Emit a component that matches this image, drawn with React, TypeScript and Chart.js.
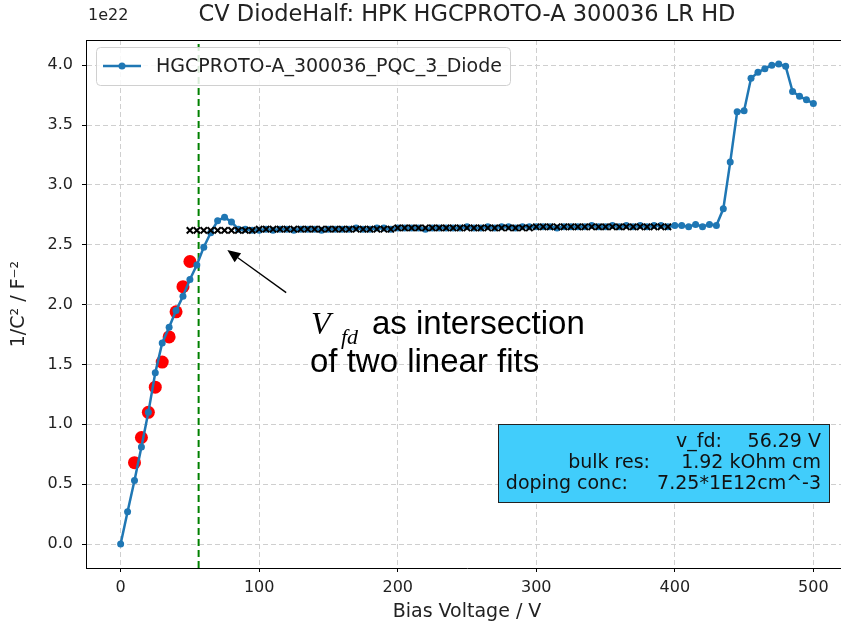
import React, { useEffect, useRef } from 'react';
import { Chart, registerables } from 'chart.js';

Chart.register(...registerables);

// ---------- data ----------
const biasVoltage = [
  0, 5, 10, 15, 20, 25, 30, 35, 40, 45, 50, 55, 60, 65, 70, 75, 80, 85,
  90, 95, 100, 105, 110, 115, 120, 125, 130, 135, 140, 145, 150, 155, 160, 165, 170, 175,
  180, 185, 190, 195, 200, 205, 210, 215, 220, 225, 230, 235, 240, 245, 250, 255, 260, 265,
  270, 275, 280, 285, 290, 295, 300, 305, 310, 315, 320, 325, 330, 335, 340, 345, 350, 355,
  360, 365, 370, 375, 380, 385, 390, 395, 400, 405, 410,
  415, 420, 425, 430, 435, 440, 445, 450, 455, 460, 465, 470, 475, 480, 485, 490, 495, 500,
];
// 1/C^2 in units of 1e22 F^-2
const invCapSquared = [
  0.0, 0.27, 0.53, 0.81, 1.1, 1.43, 1.68, 1.81, 1.95, 2.07, 2.21, 2.33, 2.48, 2.6, 2.7, 2.73, 2.69, 2.63,
  2.63, 2.62, 2.62, 2.63, 2.62, 2.63, 2.63, 2.62, 2.63, 2.63, 2.63, 2.62, 2.63, 2.63, 2.63, 2.63, 2.64, 2.63,
  2.63, 2.64, 2.64, 2.63, 2.64, 2.64, 2.64, 2.64, 2.63, 2.64, 2.64, 2.64, 2.64, 2.64, 2.65, 2.64, 2.64, 2.65,
  2.64, 2.65, 2.65, 2.64, 2.65, 2.65, 2.65, 2.65, 2.65, 2.64, 2.65, 2.65, 2.65, 2.65, 2.66, 2.65, 2.65, 2.66,
  2.65, 2.66, 2.65, 2.66, 2.65, 2.66, 2.66, 2.65, 2.66, 2.66, 2.65,
  2.67, 2.65, 2.67, 2.66, 2.8, 3.19, 3.61, 3.62, 3.89, 3.94, 3.97, 4.0, 4.01, 3.99, 3.78, 3.74, 3.71, 3.68,
];
// rising linear fit (red)
const riseFitVoltage = [10, 15, 20, 25, 30, 35, 40, 45, 50];
const riseFitValue = [0.68, 0.89, 1.1, 1.31, 1.52, 1.73, 1.94, 2.15, 2.36];
// plateau linear fit (black x)
const flatFitVoltage = [
  50, 55, 60, 65, 70, 75, 80, 85, 90, 95,
  100, 105, 110, 115, 120, 125, 130, 135, 140, 145, 150, 155, 160, 165, 170, 175, 180, 185, 190, 195,
  200, 205, 210, 215, 220, 225, 230, 235, 240, 245, 250, 255, 260, 265, 270, 275, 280, 285, 290, 295,
  300, 305, 310, 315, 320, 325, 330, 335, 340, 345, 350, 355, 360, 365, 370, 375, 380, 385, 390, 395,
];
const flatFitValue = [
  2.62, 2.62, 2.62, 2.62, 2.62, 2.62, 2.62, 2.62, 2.62, 2.62,
  2.63, 2.63, 2.63, 2.63, 2.63, 2.63, 2.63, 2.63, 2.63, 2.63, 2.63, 2.63, 2.63, 2.63, 2.63, 2.63, 2.63, 2.63, 2.63, 2.63,
  2.64, 2.64, 2.64, 2.64, 2.64, 2.64, 2.64, 2.64, 2.64, 2.64, 2.64, 2.64, 2.64, 2.64, 2.64, 2.64, 2.64, 2.64, 2.64, 2.64,
  2.65, 2.65, 2.65, 2.65, 2.65, 2.65, 2.65, 2.65, 2.65, 2.65, 2.65, 2.65, 2.65, 2.65, 2.65, 2.65, 2.65, 2.65, 2.65, 2.65,
];
const vFullDepletion = 56.29;
const xTickValues = [0, 100, 200, 300, 400, 500];
const yTickValues = [0, 0.5, 1, 1.5, 2, 2.5, 3, 3.5, 4];
const xRange = [-25, 525];
const yRange = [-0.2, 4.21];

const titleText = 'CV DiodeHalf: HPK HGCPROTO-A 300036 LR HD';
const seriesLabel = 'HGCPROTO-A_300036_PQC_3_Diode';
const xTitle = 'Bias Voltage / V';
const yTitle = '1/C\u00B2 / F\u207B\u00B2';
const offsetText = '1e22';
const infoLabels = ['v_fd:', 'bulk res:', 'doping conc:'];
const infoValues = ['56.29 V', '1.92 kOhm cm', '7.25*1E12cm^-3'];
const annotationLine1 = 'as intersection';
const annotationLine2 = 'of two linear fits';

const BLUE = '#1f77b4';
const SANS = '"DejaVu Sans", sans-serif';

const decorPlugin = {
  id: 'decor',
  afterDraw(chart: any) {
    const ctx = chart.ctx as CanvasRenderingContext2D;
    const ca = chart.chartArea;
    const xs = chart.scales.x;
    const ys = chart.scales.y;
    const midX = (ca.left + ca.right) / 2;
    ctx.save();

    // top spine
    ctx.strokeStyle = '#000';
    ctx.lineWidth = 1;
    ctx.beginPath();
    ctx.moveTo(ca.left, Math.round(ca.top) + 0.5);
    ctx.lineTo(ca.right, Math.round(ca.top) + 0.5);
    ctx.stroke();

    // title
    ctx.fillStyle = '#222';
    ctx.font = `22.5px ${SANS}`;
    ctx.textAlign = 'center';
    ctx.textBaseline = 'middle';
    ctx.fillText(titleText, midX, 15);

    // offset text
    ctx.font = `16px ${SANS}`;
    ctx.textAlign = 'left';
    ctx.fillText(offsetText, 88, 16);

    // axis titles
    ctx.font = `19px ${SANS}`;
    ctx.textAlign = 'center';
    ctx.fillText(xTitle, midX, 612);
    ctx.save();
    ctx.translate(19, (ca.top + ca.bottom) / 2);
    ctx.rotate(-Math.PI / 2);
    ctx.fillText(yTitle, 0, 0);
    ctx.restore();

    // legend
    const lx = 96, ly = 47, lw = 414, lh = 38;
    ctx.beginPath();
    (ctx as any).roundRect(lx + 0.5, ly + 0.5, lw, lh, 4);
    ctx.fillStyle = 'rgba(255,255,255,0.85)';
    ctx.fill();
    ctx.strokeStyle = '#d0d0d0';
    ctx.lineWidth = 1;
    ctx.stroke();
    ctx.strokeStyle = BLUE;
    ctx.lineWidth = 2.5;
    ctx.beginPath();
    ctx.moveTo(103, 66);
    ctx.lineTo(141, 66);
    ctx.stroke();
    ctx.fillStyle = BLUE;
    ctx.beginPath();
    ctx.arc(122, 66, 3.5, 0, Math.PI * 2);
    ctx.fill();
    ctx.fillStyle = '#222';
    ctx.font = `19px ${SANS}`;
    ctx.textAlign = 'left';
    ctx.textBaseline = 'middle';
    ctx.fillText(seriesLabel, 156, 67);

    // annotation arrow
    const tipX = xs.getPixelForValue(77);
    const tipY = ys.getPixelForValue(2.455);
    const tailX = xs.getPixelForValue(119.5);
    const tailY = ys.getPixelForValue(2.1);
    const ang = Math.atan2(tipY - tailY, tipX - tailX);
    const headLen = 13, headW = 5.5;
    const bx = tipX - headLen * Math.cos(ang);
    const by = tipY - headLen * Math.sin(ang);
    ctx.strokeStyle = '#000';
    ctx.lineWidth = 1.3;
    ctx.beginPath();
    ctx.moveTo(tailX, tailY);
    ctx.lineTo(bx, by);
    ctx.stroke();
    ctx.fillStyle = '#000';
    ctx.beginPath();
    ctx.moveTo(tipX, tipY);
    ctx.lineTo(bx + headW * Math.sin(ang), by - headW * Math.cos(ang));
    ctx.lineTo(bx - headW * Math.sin(ang), by + headW * Math.cos(ang));
    ctx.closePath();
    ctx.fill();

    // annotation text
    ctx.textBaseline = 'alphabetic';
    ctx.textAlign = 'left';
    ctx.fillStyle = '#000';
    ctx.font = 'italic 32px "Liberation Serif", serif';
    ctx.fillText('V', 311, 334);
    ctx.font = 'italic 22px "Liberation Serif", serif';
    ctx.fillText('fd', 341, 344);
    ctx.font = '33px "Liberation Sans", Arial, sans-serif';
    ctx.fillText(annotationLine1, 372, 334);
    ctx.fillText(annotationLine2, 310, 372);

    // info box
    const bxl = 498, byt = 424, bw = 331, bh = 78;
    ctx.fillStyle = '#41cdfb';
    ctx.fillRect(bxl, byt, bw, bh);
    ctx.strokeStyle = '#222';
    ctx.lineWidth = 1;
    ctx.strokeRect(bxl + 0.5, byt + 0.5, bw, bh);
    ctx.fillStyle = '#111';
    ctx.font = `19px ${SANS}`;
    ctx.textBaseline = 'middle';
    const labelRight = [722, 650, 628];
    const rowY = [442, 463, 484];
    for (let i = 0; i < infoLabels.length; i++) {
      ctx.textAlign = 'right';
      ctx.fillText(infoLabels[i], labelRight[i], rowY[i]);
      ctx.fillText(infoValues[i], 821, rowY[i]);
    }

    ctx.restore();
  },
};

export default function App() {
  const canvasRef = useRef<HTMLCanvasElement | null>(null);

  useEffect(() => {
    const canvas = canvasRef.current;
    if (!canvas) return;
    Chart.defaults.font.family = SANS;

    const mainPts = biasVoltage.map((v, i) => ({ x: v, y: invCapSquared[i] }));
    const risePts = riseFitVoltage.map((v, i) => ({ x: v, y: riseFitValue[i] }));
    const flatPts = flatFitVoltage.map((v, i) => ({ x: v, y: flatFitValue[i] }));
    const vfdPts = [
      { x: vFullDepletion, y: yRange[0] },
      { x: vFullDepletion, y: yRange[1] },
    ];

    const chart = new Chart(canvas, {
      type: 'scatter',
      data: {
        datasets: [
          {
            label: 'plateau fit',
            data: flatPts,
            showLine: false,
            pointStyle: 'crossRot',
            pointRadius: 4.5,
            pointBorderWidth: 2,
            borderColor: '#000',
            backgroundColor: '#000',
          },
          {
            label: seriesLabel,
            data: mainPts,
            showLine: true,
            borderColor: BLUE,
            backgroundColor: BLUE,
            borderWidth: 2.5,
            pointRadius: 3.5,
            pointBorderWidth: 0,
          },
          {
            label: 'rise fit',
            data: risePts,
            showLine: false,
            pointRadius: 6.5,
            pointBorderWidth: 0,
            backgroundColor: '#ff0000',
            borderColor: '#ff0000',
          },
          {
            label: 'v_fd',
            data: vfdPts,
            showLine: true,
            borderColor: '#008000',
            borderDash: [7, 4],
            borderWidth: 2,
            pointRadius: 0,
          },
        ],
      },
      options: {
        responsive: false,
        animation: false,
        devicePixelRatio: 1,
        layout: { padding: { left: 0, top: 40, right: 12, bottom: 0 } },
        plugins: {
          legend: { display: false },
          title: { display: false },
          tooltip: { enabled: false },
        },
        scales: {
          x: {
            type: 'linear',
            min: xRange[0],
            max: xRange[1],
            afterFit: (s: any) => {
              s.height = 59;
              s.paddingRight = 0;
              s.paddingLeft = 0;
            },
            afterBuildTicks: (s: any) => {
              s.ticks = xTickValues.map((v) => ({ value: v }));
            },
            ticks: {
              color: '#222',
              font: { size: 16 },
              padding: 6,
              maxRotation: 0,
              callback: (v: any) => String(v),
            },
            grid: {
              color: '#cfcfcf',
              lineWidth: 1,
              drawTicks: true,
              tickLength: 4,
              tickColor: '#000',
              tickWidth: 1,
              tickBorderDash: [],
            } as any,
            border: { display: true, color: '#000', width: 1, dash: [5, 3] } as any,
          },
          y: {
            type: 'linear',
            min: yRange[0],
            max: yRange[1],
            afterFit: (s: any) => {
              s.width = 86;
            },
            afterBuildTicks: (s: any) => {
              s.ticks = yTickValues.map((v) => ({ value: v }));
            },
            ticks: {
              color: '#222',
              font: { size: 16 },
              padding: 9,
              callback: (v: any) => Number(v).toFixed(1),
            },
            grid: {
              color: '#cfcfcf',
              lineWidth: 1,
              drawTicks: true,
              tickLength: 4,
              tickColor: '#000',
              tickWidth: 1,
              tickBorderDash: [],
            } as any,
            border: { display: true, color: '#000', width: 1, dash: [5, 3] } as any,
          },
        },
      },
      plugins: [decorPlugin],
    });
    return () => chart.destroy();
  }, []);

  return (
    <div
      style={{
        position: 'fixed',
        left: 0,
        top: 0,
        width: 841,
        height: 627,
        overflow: 'hidden',
        background: '#fff',
      }}
    >
      <canvas ref={canvasRef} width={860} height={627} style={{ display: 'block' }} />
    </div>
  );
}
